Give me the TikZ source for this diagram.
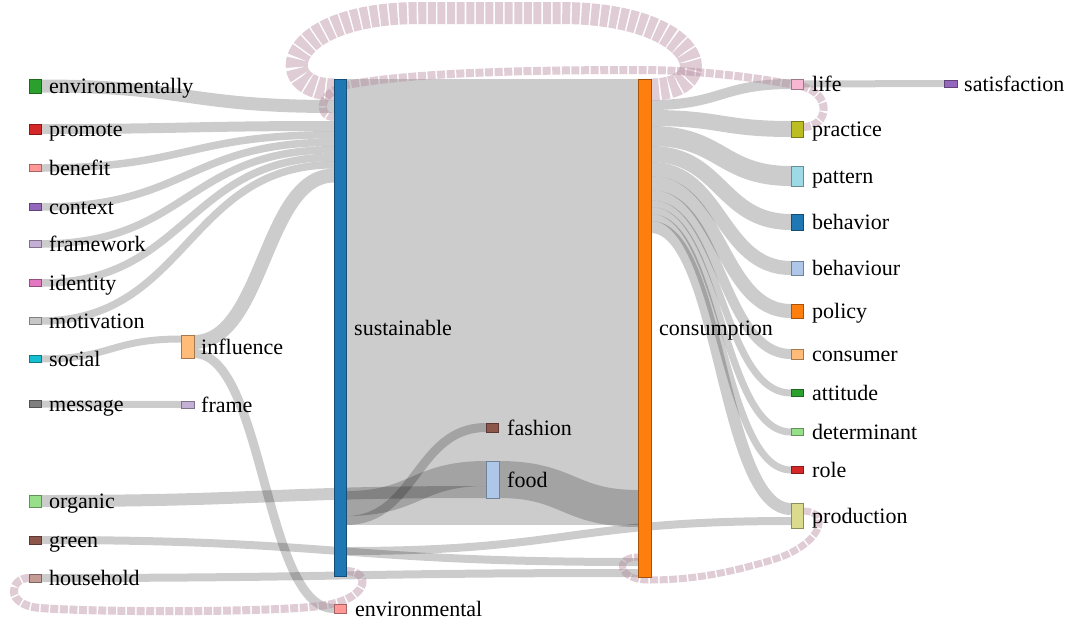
\documentclass[tikz,border=0pt]{standalone}
\usepackage{fontspec}
\setmainfont{Liberation Serif}
\newfontfamily\labelfont{Liberation Serif}
\usetikzlibrary{calc}

\definecolor{cBlue}{HTML}{1F77B4}
\definecolor{cBlueL}{HTML}{AEC7E8}
\definecolor{cOrange}{HTML}{FF7F0E}
\definecolor{cOrangeL}{HTML}{FFBB78}
\definecolor{cGreen}{HTML}{2CA02C}
\definecolor{cGreenL}{HTML}{98DF8A}
\definecolor{cRed}{HTML}{D62728}
\definecolor{cRedL}{HTML}{FF9896}
\definecolor{cPurple}{HTML}{9467BD}
\definecolor{cPurpleL}{HTML}{C5B0D5}
\definecolor{cBrown}{HTML}{8C564B}
\definecolor{cBrownL}{HTML}{C49C94}
\definecolor{cPink}{HTML}{E377C2}
\definecolor{cPinkL}{HTML}{F7B6D2}
\definecolor{cGrey}{HTML}{7F7F7F}
\definecolor{cGreyL}{HTML}{C7C7C7}
\definecolor{cOlive}{HTML}{BCBD22}
\definecolor{cOliveL}{HTML}{DBDB8D}
\definecolor{cCyan}{HTML}{17BECF}
\definecolor{cCyanL}{HTML}{9EDAE5}
\definecolor{loopc}{RGB}{180,135,155}

\pgfdeclarelayer{paper}
\pgfdeclarelayer{flows}
\pgfsetlayers{paper,flows,main}

\tikzset{
  nbox/.style={fill=#1, draw=#1!65!black, line width=0.7pt, inner sep=0pt,
               outer sep=0pt, anchor=north west, minimum width=12pt},
  lbl/.style={anchor=base west, inner sep=0pt,
              font=\labelfont\fontsize{22}{26}\selectfont},
  flow/.style={draw=black, draw opacity=0.2, line cap=butt},
  loopflow/.style={draw=loopc, draw opacity=0.42, line cap=butt,
                   dash pattern=on 8pt off 1.6pt},
}

% sankey band: [options] source, offset of band centre below source top,
% target, offset of band centre below target top, band width
\newcommand\flowband[6][]{%
  \coordinate (fa) at ($(#2.north east)+(0,#3)$);
  \coordinate (fb) at ($(#4.north west)+(0,#5)$);
  \coordinate (fm) at ($(fa)!0.5!(fb)$);
  \draw[flow, line width=#6pt, #1] (fa) .. controls (fa -| fm) and (fb -| fm) .. (fb);
}
% label to the right of a node
\newcommand\nlabel[3]{\node[lbl] (#1-l) at ($(#1.east)+(#2,7.7)$) {#3};}

\begin{document}
\begin{tikzpicture}[x=1pt,y=-1pt]
\begin{pgfonlayer}{paper}
  \fill[white] (0,0) rectangle (1076,625);
\end{pgfonlayer}
\useasboundingbox (0,0) rectangle (1076,625);

% ---------- nodes ----------
\node[nbox=cGreen,   minimum height=14pt] (envly)      at (29,79) {};
\node[nbox=cRed,     minimum height=10pt] (promote)    at (29,124) {};
\node[nbox=cRedL,    minimum height=7pt]  (benefit)    at (29,164.5) {};
\node[nbox=cPurple,  minimum height=7pt]  (context)    at (29,203.5) {};
\node[nbox=cPurpleL, minimum height=7pt]  (framework)  at (29,240.5) {};
\node[nbox=cPink,    minimum height=7pt]  (identity)   at (29,279.5) {};
\node[nbox=cGreyL,   minimum height=7pt]  (motivation) at (29,317.5) {};
\node[nbox=cCyan,    minimum height=7pt]  (social)     at (29,355.5) {};
\node[nbox=cGrey,    minimum height=7pt]  (message)    at (29,400.5) {};
\node[nbox=cGreenL,  minimum height=12pt] (organic)    at (29,495) {};
\node[nbox=cBrown,   minimum height=8pt]  (green)      at (29,536) {};
\node[nbox=cBrownL,  minimum height=8pt]  (household)  at (29,574) {};

\node[nbox=cOrangeL, minimum height=23pt, minimum width=13pt] (influence) at (181,335) {};
\node[nbox=cPurpleL, minimum height=7pt,  minimum width=13pt] (frame)     at (181,401) {};

\node[nbox=cBlue,  minimum height=497pt] (sust)          at (334,79) {};
\node[nbox=cRedL,  minimum height=9pt]   (environmental) at (334,604) {};
\node[nbox=cBrown, minimum height=9pt]   (fashion)       at (486,423) {};
\node[nbox=cBlueL, minimum height=37pt, minimum width=13pt] (food) at (486,461) {};
\node[nbox=cOrange, minimum height=498pt, minimum width=13pt] (cons) at (638,79) {};

\node[nbox=cPinkL,   minimum height=10pt] (life)        at (791,79) {};
\node[nbox=cOlive,   minimum height=16pt] (practice)    at (791,121) {};
\node[nbox=cCyanL,   minimum height=20pt] (pattern)     at (791,166) {};
\node[nbox=cBlue,    minimum height=16pt] (behavior)    at (791,214) {};
\node[nbox=cBlueL,   minimum height=14pt] (behaviour)   at (791,261) {};
\node[nbox=cOrange,  minimum height=14pt] (policy)      at (791,304) {};
\node[nbox=cOrangeL, minimum height=10pt] (consumer)    at (791,349) {};
\node[nbox=cGreen,   minimum height=7pt]  (attitude)    at (791,389.5) {};
\node[nbox=cGreenL,  minimum height=7pt]  (determinant) at (791,428.5) {};
\node[nbox=cRed,     minimum height=7pt]  (role)        at (791,466.5) {};
\node[nbox=cOliveL,  minimum height=25pt] (production)  at (791,503) {};
\node[nbox=cPurple,  minimum height=7pt, minimum width=13pt] (satisfaction) at (944,80) {};

% ---------- labels ----------
\nlabel{envly}{8}{environmentally}
\nlabel{promote}{8}{promote}
\nlabel{benefit}{8}{benefit}
\nlabel{context}{8}{context}
\nlabel{framework}{8}{framework}
\nlabel{identity}{8}{identity}
\nlabel{motivation}{8}{motivation}
\nlabel{social}{8}{social}
\nlabel{message}{8}{message}
\nlabel{organic}{8}{organic}
\nlabel{green}{8}{green}
\nlabel{household}{8}{household}
\nlabel{influence}{7}{influence}
\nlabel{frame}{7}{frame}
\nlabel{sust}{8}{sustainable}
\nlabel{environmental}{9}{environmental}
\nlabel{fashion}{9}{fashion}
\nlabel{food}{8}{food}
\nlabel{cons}{8}{consumption}
\nlabel{life}{9}{life}
\nlabel{practice}{9}{practice}
\nlabel{pattern}{9}{pattern}
\nlabel{behavior}{9}{behavior}
\nlabel{behaviour}{9}{behaviour}
\nlabel{policy}{9}{policy}
\nlabel{consumer}{9}{consumer}
\nlabel{attitude}{9}{attitude}
\nlabel{determinant}{9}{determinant}
\nlabel{role}{9}{role}
\nlabel{production}{9}{production}
\nlabel{satisfaction}{7}{satisfaction}

% ---------- flows ----------
\begin{pgfonlayer}{flows}
  % into sustainable
  \flowband{envly}{7}{sust}{27.5}{13}
  \flowband{promote}{5}{sust}{47}{10}
  \flowband{benefit}{3.5}{sust}{55.75}{7.5}
  \flowband{context}{3.5}{sust}{63.25}{7.5}
  \flowband{framework}{3.5}{sust}{70.75}{7.5}
  \flowband{identity}{3.5}{sust}{78.25}{7.5}
  \flowband{motivation}{3.5}{sust}{85.75}{7.5}
  \flowband{social}{3.5}{influence}{4}{7}
  \flowband{message}{3.5}{frame}{3.5}{7}
  \flowband{influence}{7}{sust}{96.5}{14}
  \flowband{influence}{18.5}{environmental}{4.5}{9}
  % sustainable to consumption and the food branch
  \flowband{sust}{223}{cons}{223}{446}
  \flowband{sust}{424.5}{food}{12.5}{25}
  \flowband{sust}{441.5}{fashion}{4.5}{9}
  \flowband{organic}{6}{food}{31}{12}
  \flowband{food}{18.5}{cons}{429.5}{37}
  \flowband{green}{4}{cons}{483}{8}
  \flowband{household}{4}{cons}{494}{8}
  \flowband{sust}{472}{production}{18}{8}
  % out of consumption
  \flowband{cons}{26}{life}{5}{10}
  \flowband{cons}{39}{practice}{8}{16}
  \flowband{cons}{57}{pattern}{10}{20}
  \flowband{cons}{75}{behavior}{8}{16}
  \flowband{cons}{90}{behaviour}{7}{14}
  \flowband{cons}{104}{policy}{7}{14}
  \flowband{cons}{116}{consumer}{5}{10}
  \flowband{cons}{124.5}{attitude}{3.5}{7}
  \flowband{cons}{131.5}{determinant}{3.5}{7}
  \flowband{cons}{138.5}{role}{3.5}{7}
  \flowband{cons}{148}{production}{6}{12}
  \flowband{life}{5}{satisfaction}{3.5}{7}

  % circular flows
  \draw[loopflow, line width=22pt]
    ($(cons.north east)+(0,10.5)$) .. controls (722,89.5) and (702,13) .. (560,13)
    -- (420,13) .. controls (282,13) and (270,89.5) .. ($(sust.north west)+(0,10.5)$);
  \draw[loopflow, line width=8pt]
    ($(practice.north east)+(0,6)$) .. controls (830,127) and (832,92) .. (800,86)
    .. controls (760,78) and (700,70) .. (640,70)
    .. controls (540,70) and (420,72) .. (352,84)
    .. controls (318,90) and (316,117) .. ($(sust.north west)+(0,38)$);
  \draw[loopflow, line width=7pt]
    ($(production.north east)+(0,8)$) .. controls (832,511) and (822,545) .. (772,560)
    .. controls (725,574) and (690,580) .. (648,580)
    .. controls (618,580) and (614,557) .. ($(cons.north west)+(0,478)$);
  \draw[loopflow, line width=8pt]
    ($(sust.north east)+(0,492)$) .. controls (372,571) and (370,600) .. (320,606)
    .. controls (260,613) and (90,612) .. (40,608)
    .. controls (4,605) and (10,578) .. ($(household.north west)+(0,4)$);
\end{pgfonlayer}
\end{tikzpicture}
\end{document}
